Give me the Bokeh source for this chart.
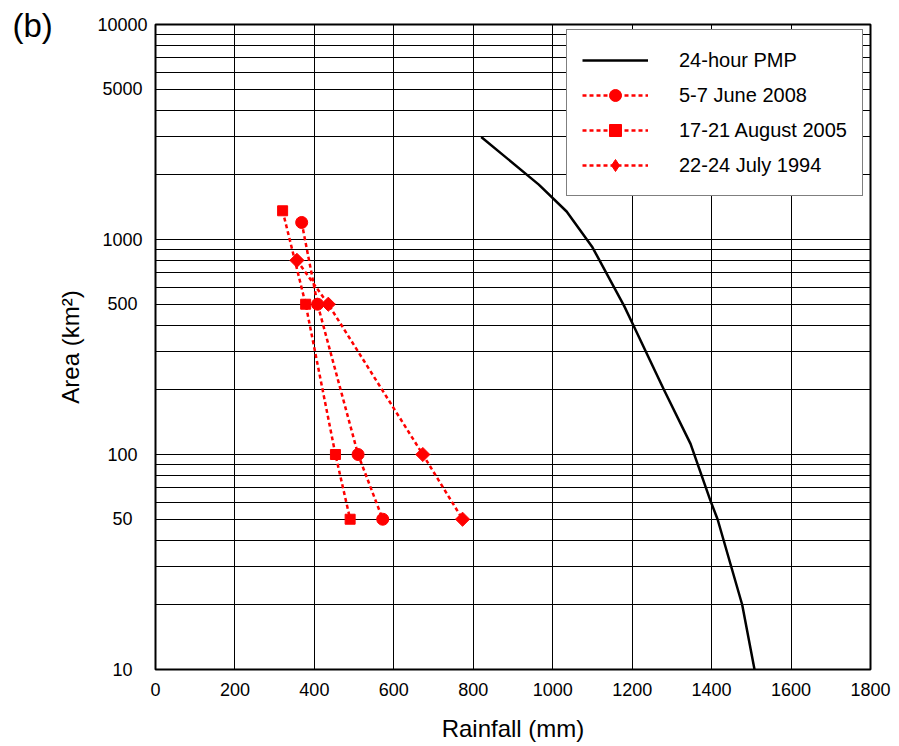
from bokeh.plotting import figure
from bokeh.models import FixedTicker, Label, Legend, LegendItem, CustomJSTickFormatter
from bokeh.embed import file_html
from bokeh.resources import INLINE

# ---- data ----
pmp_area = [3000, 1800, 1350, 920, 490, 410, 200, 112, 61, 50, 20, 10]
pmp_rain = [820, 965, 1035, 1100, 1180, 1200, 1280, 1347, 1397, 1415, 1477, 1508]

june2008_area = [1200, 500, 100, 50]
june2008_rain = [368, 408, 510, 572]

aug2005_area = [1360, 500, 100, 50]
aug2005_rain = [320, 378, 453, 490]

jul1994_area = [800, 500, 100, 50]
jul1994_rain = [356, 435, 673, 773]

x_ticks = [0, 200, 400, 600, 800, 1000, 1200, 1400, 1600, 1800]
y_ticks = [10, 50, 100, 500, 1000, 5000, 10000]
y_grid = [m * d for d in (10, 100, 1000) for m in range(1, 10)] + [10000]

FONT = "Liberation Sans"
RED = "#ff0000"

p = figure(width=899, height=746, output_backend="svg", toolbar_location=None,
           x_range=(0, 1800), y_range=(10, 10000), y_axis_type="log",
           min_border_left=155, min_border_right=29, min_border_top=24,
           min_border_bottom=77)

p.background_fill_color = "white"
p.border_fill_color = "white"
p.outline_line_color = "black"
p.outline_line_width = 2

# grid
p.xgrid.ticker = FixedTicker(ticks=x_ticks)
p.ygrid.ticker = FixedTicker(ticks=y_grid)
for g in (p.xgrid, p.ygrid):
    g.grid_line_color = "black"
    g.grid_line_width = 1
    g.grid_line_alpha = 1.0

# axes
p.xaxis.ticker = FixedTicker(ticks=x_ticks)
p.yaxis.ticker = FixedTicker(ticks=y_ticks)
p.yaxis.minor_tick_line_color = None
p.xaxis.minor_tick_line_color = None
for ax in (p.xaxis, p.yaxis):
    ax.axis_line_color = None
    ax.major_tick_line_color = None
    ax.major_tick_out = 0
    ax.major_tick_in = 0
    ax.major_label_text_font = FONT
    ax.major_label_text_font_size = "18px"
    ax.major_label_text_color = "black"
    ax.axis_label_text_font = FONT
    ax.axis_label_text_font_size = "24px"
    ax.axis_label_text_font_style = "normal"
    ax.axis_label_text_color = "black"

# centre the y tick labels: pad on the right with punctuation spaces (half a digit each)
p.yaxis.formatter = CustomJSTickFormatter(
    code="const s = tick.toFixed(0); return s + '\\u2008'.repeat(Math.max(0, 5 - s.length));")
p.xaxis.axis_label = "Rainfall (mm)"
p.yaxis.axis_label = "Area (km²)"
p.xaxis.major_label_standoff = 13
p.xaxis.axis_label_standoff = 16
p.yaxis.major_label_standoff = 8
p.yaxis.axis_label_standoff = 10

# renderers
r_pmp = p.line(pmp_rain, pmp_area, line_color="black", line_width=2.5)

dash = "4 3"
r1l = p.line(june2008_rain, june2008_area, line_color=RED, line_width=2.5, line_dash=dash)
r1m = p.scatter(june2008_rain, june2008_area, marker="circle", size=12,
                fill_color=RED, line_color=RED)
r2l = p.line(aug2005_rain, aug2005_area, line_color=RED, line_width=2.5, line_dash=dash)
r2m = p.scatter(aug2005_rain, aug2005_area, marker="square", size=10,
                fill_color=RED, line_color=RED)
r3l = p.line(jul1994_rain, jul1994_area, line_color=RED, line_width=2.5, line_dash=dash)
r3m = p.scatter(jul1994_rain, jul1994_area, marker="square", size=10, angle=0.7853982,
                fill_color=RED, line_color=RED)
# diamond glyph used for the legend entry (the legend does not rotate markers)
r3k = p.scatter(jul1994_rain, jul1994_area, marker="diamond", size=14,
                fill_color=RED, line_color=RED, visible=False)

legend = Legend(items=[
    LegendItem(label="24-hour PMP", renderers=[r_pmp]),
    LegendItem(label="5-7 June 2008", renderers=[r1l, r1m]),
    LegendItem(label="17-21 August 2005", renderers=[r2l, r2m]),
    LegendItem(label="22-24 July 1994", renderers=[r3l, r3k]),
])
legend.location = (411, 473)
legend.border_line_color = "black"
legend.border_line_width = 1.5
legend.background_fill_color = "white"
legend.background_fill_alpha = 1.0
legend.label_text_font = FONT
legend.label_text_font_size = "20px"
legend.label_text_color = "black"
legend.glyph_width = 66
legend.glyph_height = 30
legend.label_height = 25
legend.label_standoff = 31
legend.spacing = 5
legend.padding = 15
legend.margin = 0
p.add_layout(legend)

lab = Label(x=-2, y=644, x_units="screen", y_units="screen", text="(b)",
            text_font=FONT, text_font_size="33px", text_color="black",
            text_align="left", text_baseline="alphabetic")
p.add_layout(lab, "left")

open("out.html", "w").write(file_html(p, INLINE))
